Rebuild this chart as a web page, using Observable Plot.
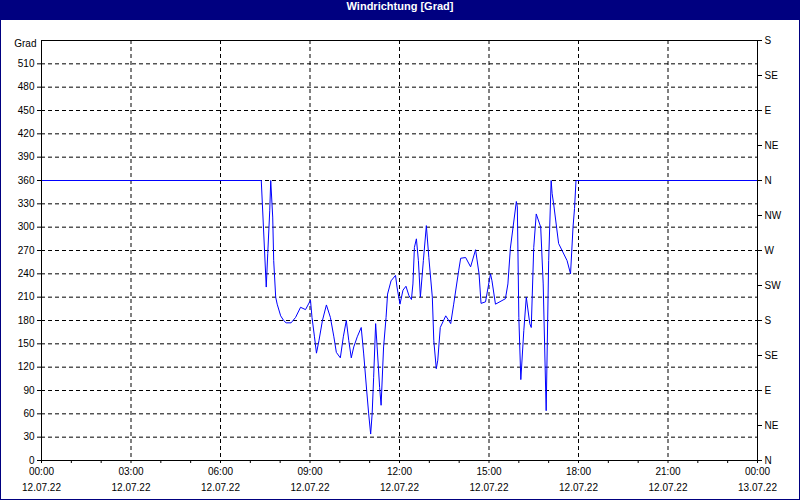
<!DOCTYPE html>
<html>
<head>
<meta charset="utf-8">
<script src="https://cdn.jsdelivr.net/npm/d3@7"></script>
<script src="https://cdn.jsdelivr.net/npm/@observablehq/plot@0.6"></script>
<style>
  html, body { margin: 0; padding: 0; background: #ffffff; }
  #wrap { position: relative; width: 800px; height: 500px; background: #ffffff; overflow: hidden; }
  #title { height: 20px; line-height: 20px; background: #000080; color: #ffffff; text-align: center;
           font: bold 11px "Liberation Sans", Arial, sans-serif; }
  #border { position: absolute; left: 0; top: 0; width: 800px; height: 500px; box-sizing: border-box;
            border: 1px solid #000080; pointer-events: none; }
  svg { display: block; }
</style>
</head>
<body>
<div id="wrap">
  <div id="title">Windrichtung [Grad]</div>
  <div id="chart"></div>
  <div id="border"></div>
</div>
<script>
// Observed times (12.07.22, HH:MM) and wind direction in degrees
const times = ["00:00","07:22","07:32","07:35","07:39","07:41","07:45","07:47","07:51","07:54",
  "08:01","08:07","08:12","08:22","08:31","08:41","08:51","09:01","09:04","09:09",
  "09:13","09:18","09:25","09:33","09:41","09:48","09:53","10:01","10:07","10:13",
  "10:18","10:23","10:28","10:35","10:43","10:48","10:54","10:58","11:02","11:05",
  "11:08","11:12","11:15","11:20","11:23","11:28","11:33","11:36","11:43","11:52",
  "11:55","12:01","12:07","12:13","12:19","12:24","12:27","12:30","12:34","12:38",
  "12:42","12:48","12:54","12:59","13:06","13:09","13:14","13:17","13:22","13:33",
  "13:43","13:49","13:59","14:03","14:13","14:23","14:33","14:40","14:44","14:53",
  "15:03","15:06","15:13","15:33","15:38","15:43","15:55","15:57","16:00","16:04",
  "16:10","16:15","16:22","16:25","16:30","16:35","16:44","16:49","16:54","16:55",
  "17:00","17:05","17:07","17:10","17:20","17:27","17:37","17:44","17:49","17:52",
  "17:55","24:00"];
const degrees = [360,360,223,266,321,360,313,257,210,201,
  186,180,177,177,184,197,194,206,184,159,
  138,154,180,200,184,159,139,132,159,180,
  154,132,146,159,171,137,90,60,34,60,
  107,176,146,94,71,146,184,214,231,238,
  223,201,219,224,212,207,227,274,285,257,
  210,257,302,261,210,154,118,129,171,186,
  176,201,244,260,261,249,271,240,202,204,
  240,231,201,208,227,273,333,326,184,104,
  167,210,176,171,274,317,300,227,90,64,
  257,360,343,330,279,270,257,240,300,324,
  360,360];

const leftTicks = [0,30,60,90,120,150,180,210,240,270,300,330,360,390,420,450,480,510];
const rightTicks = [0,45,90,135,180,225,270,315,360,405,450,495,540];
const rightLabels = ["N","NE","E","SE","S","SW","W","NW","N","NE","E","SE","S"];
const xTickHours = [0,3,6,9,12,15,18,21,24];
const xTimeLabels = ["00:00","03:00","06:00","09:00","12:00","15:00","18:00","21:00","00:00"];
const xDateLabels = ["12.07.22","12.07.22","12.07.22","12.07.22","12.07.22","12.07.22","12.07.22","12.07.22","13.07.22"];

const toDate = (h, m = 0) => new Date(Date.UTC(2022, 6, 12, h, m));
const data = times.map((t, i) => {
  const [h, m] = t.split(":").map(Number);
  return {t: toDate(h, m), v: degrees[i]};
});
const xTicks = xTickHours.map((h, i) => ({t: toDate(h), time: xTimeLabels[i], date: xDateLabels[i]}));
const minorTicks = d3.range(0, 25).map(h => toDate(h));
const gridX = xTickHours.slice(1, -1).map(h => toDate(h));
const gridY = leftTicks.slice(1);

const font = '"Liberation Sans", Arial, sans-serif';

const chart = Plot.plot({
  width: 800,
  height: 480,
  marginLeft: 41,
  marginRight: 43,
  marginTop: 20,
  marginBottom: 40,
  style: {fontFamily: font, fontSize: "10px", background: "#ffffff", color: "#000"},
  x: {type: "utc", domain: [toDate(0), toDate(24)]},
  y: {type: "linear", domain: [0, 540]},
  marks: [
    Plot.ruleY(gridY, {stroke: "#000", strokeWidth: 1, strokeDasharray: "4,3"}),
    Plot.ruleX(gridX, {stroke: "#000", strokeWidth: 1, strokeDasharray: "4,3"}),
    Plot.line(data, {x: "t", y: "v", stroke: "#0000ff", strokeWidth: 1}),
    Plot.frame({stroke: "#000", strokeWidth: 1}),
    Plot.axisY({anchor: "left", ticks: leftTicks, tickSize: 4, tickPadding: 3, label: null,
      fontSize: 10, fill: "#000"}),
    Plot.text(["Grad"], {x: toDate(0), y: 540, text: d => d, textAnchor: "end", dx: -5, dy: 3,
      fontSize: 10, fill: "#000"}),
    Plot.axisY({anchor: "right", ticks: rightTicks, tickSize: 4, tickPadding: 3, label: null,
      tickFormat: d => rightLabels[rightTicks.indexOf(d)], fontSize: 10, fill: "#000"}),
    Plot.axisX({ticks: minorTicks, tickSize: 3, tickFormat: () => "", label: null}),
    Plot.text(xTicks, {x: "t", text: "time", frameAnchor: "bottom", dy: 14, fontSize: 10, fill: "#000"}),
    Plot.text(xTicks, {x: "t", text: "date", frameAnchor: "bottom", dy: 30, fontSize: 10, fill: "#000"})
  ]
});
document.getElementById("chart").appendChild(chart);
</script>
</body>
</html>
